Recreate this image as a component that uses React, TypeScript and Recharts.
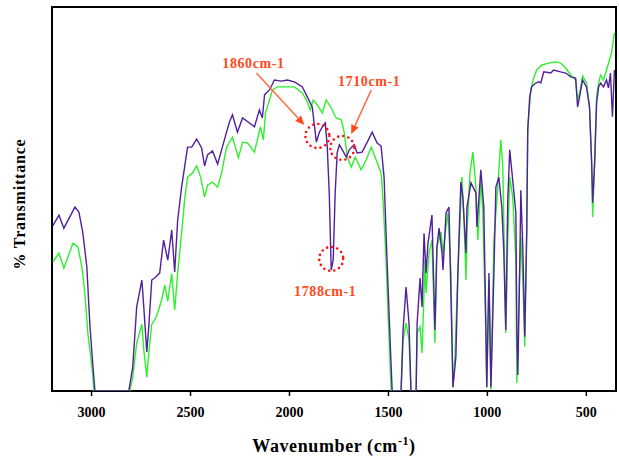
import {
  LineChart,
  Line,
  XAxis,
  YAxis,
  ReferenceArea,
  ReferenceDot,
  ReferenceLine,
} from "recharts";

// [wavenumber cm-1, % transmittance]
const purpleSpectrum: [number, number][] = [
  [3196, 43.0], [3165, 45.8], [3140, 42.4], [3084, 47.9], [3064, 46.6], [3044, 41.1],
  [3024, 32.3], [3008, 16.7], [2993, 6.3], [2983, 0], [2812, 0], [2792, 6.3],
  [2772, 21.9], [2746, 28.9], [2741, 25.5], [2721, 10.2], [2711, 16.7], [2696, 28.9],
  [2676, 29.7], [2656, 30.7], [2636, 39.3], [2615, 34.1], [2595, 41.9], [2580, 31.0],
  [2565, 44.5], [2545, 53.1], [2530, 58.3], [2515, 63.5], [2494, 63.5], [2469, 65.6],
  [2444, 63.3], [2429, 58.6], [2414, 61.5], [2389, 62.5], [2363, 59.1], [2343, 62.8],
  [2318, 67.4], [2303, 70.1], [2288, 71.9], [2263, 67.4], [2237, 71.1], [2202, 69.8],
  [2177, 68.8], [2152, 73.2], [2137, 71.1], [2126, 77.1], [2101, 78.4], [2076, 81.0],
  [2041, 80.7], [2011, 81.0], [1975, 80.5], [1935, 79.2], [1910, 76.6], [1885, 74.0],
  [1864, 64.8], [1849, 67.4], [1834, 68.8], [1819, 69.8], [1809, 63.5], [1799, 51.6],
  [1789, 31.5], [1779, 34.1], [1769, 51.6], [1759, 62.0], [1748, 64.1], [1733, 62.8],
  [1713, 60.9], [1698, 62.8], [1673, 64.1], [1658, 62.0], [1633, 62.2], [1607, 64.8],
  [1582, 67.4], [1557, 64.6], [1537, 63.8], [1522, 55.7], [1507, 34.1], [1491, 12.5],
  [1481, 0], [1436, 0], [1426, 15.9], [1411, 27.1], [1396, 17.7], [1386, 0],
  [1360, 0], [1355, 17.7], [1340, 29.4], [1330, 21.9], [1320, 41.1], [1310, 30.7],
  [1300, 38.5], [1280, 45.8], [1265, 15.9], [1255, 37.5], [1244, 42.4], [1229, 35.9],
  [1224, 31.5], [1209, 46.4], [1194, 47.9], [1179, 13.3], [1174, 1.0], [1159, 8.9],
  [1149, 30.7], [1134, 54.4], [1124, 50.5], [1108, 35.9], [1103, 47.9], [1083, 54.2],
  [1058, 51.6], [1053, 42.7], [1033, 57.6], [1018, 47.9], [1008, 17.7], [1003, 1.0],
  [992, 30.7], [982, 1.0], [967, 30.7], [957, 53.1], [942, 55.7], [927, 47.9],
  [917, 36.5], [907, 15.9], [897, 49.7], [887, 62.8], [872, 54.9], [856, 46.4],
  [851, 15.9], [846, 4.2], [836, 33.3], [831, 52.3], [821, 37.5], [811, 14.1],
  [801, 41.9], [796, 68.0], [786, 76.6], [776, 79.2], [756, 80.2], [740, 80.5],
  [730, 80.2], [715, 83.1], [680, 82.8], [665, 83.6], [630, 83.1], [604, 82.8],
  [579, 81.8], [554, 81.5], [544, 74.0], [534, 76.6], [519, 81.0], [499, 79.2],
  [484, 74.0], [473, 59.4], [468, 49.0], [458, 59.4], [448, 75.0], [438, 79.2],
  [428, 80.2], [413, 79.2], [398, 81.0], [388, 78.9], [378, 82.8], [368, 71.4],
  [358, 83.6],
];

const greenSpectrum: [number, number][] = [
  [3196, 33.6], [3165, 35.9], [3140, 32.0], [3094, 38.5], [3069, 37.5], [3049, 32.3],
  [3034, 25.5], [3019, 15.1], [2998, 6.3], [2988, 0], [2807, 0], [2792, 3.6],
  [2772, 12.5], [2746, 17.4], [2736, 10.7], [2721, 3.6], [2711, 9.9], [2696, 17.4],
  [2681, 18.5], [2666, 20.3], [2646, 23.7], [2630, 27.6], [2615, 23.4], [2595, 30.5],
  [2580, 21.1], [2565, 30.7], [2545, 41.1], [2530, 49.7], [2515, 55.7], [2489, 56.8],
  [2469, 58.6], [2449, 55.7], [2429, 50.5], [2414, 53.6], [2389, 54.4], [2363, 53.1],
  [2343, 56.8], [2318, 63.5], [2288, 66.1], [2258, 60.7], [2237, 64.8], [2212, 64.6],
  [2177, 62.2], [2147, 68.8], [2132, 65.4], [2121, 72.4], [2106, 75.0], [2086, 78.4],
  [2061, 79.2], [2026, 79.2], [1975, 79.2], [1935, 77.6], [1910, 75.3], [1895, 73.2],
  [1880, 75.8], [1859, 74.5], [1834, 72.4], [1814, 75.8], [1789, 73.7], [1764, 71.1],
  [1738, 70.6], [1723, 67.2], [1708, 60.9], [1688, 58.3], [1668, 60.9], [1653, 59.4],
  [1638, 57.6], [1612, 60.2], [1587, 63.5], [1562, 60.2], [1537, 56.8], [1527, 49.7],
  [1512, 34.1], [1496, 12.5], [1486, 0], [1436, 0], [1426, 13.3], [1411, 17.7],
  [1396, 13.3], [1386, 0], [1360, 0], [1355, 15.1], [1340, 16.7], [1330, 9.9],
  [1315, 34.1], [1310, 25.5], [1295, 35.9], [1280, 39.3], [1265, 12.5], [1255, 37.5],
  [1234, 41.4], [1224, 35.9], [1209, 42.7], [1199, 46.4], [1184, 30.7], [1174, 1.0],
  [1164, 8.9], [1149, 30.7], [1129, 55.7], [1118, 44.5], [1108, 28.9], [1103, 41.1],
  [1088, 56.8], [1073, 62.2], [1058, 53.1], [1048, 39.3], [1033, 54.9], [1023, 46.4],
  [1008, 15.9], [1003, 1.0], [992, 28.9], [982, 0.3], [967, 39.3], [952, 49.7],
  [932, 65.4], [922, 58.3], [907, 15.1], [897, 39.3], [887, 55.7], [872, 50.5],
  [856, 34.1], [851, 2.1], [836, 33.3], [831, 40.1], [821, 28.9], [811, 11.5],
  [801, 41.9], [796, 68.0], [781, 78.4], [766, 81.5], [751, 83.6], [725, 84.9],
  [690, 85.4], [655, 85.7], [630, 85.4], [604, 84.1], [579, 82.3], [554, 81.0],
  [544, 75.8], [534, 77.6], [519, 82.0], [499, 80.2], [484, 74.0], [473, 59.4],
  [468, 45.3], [458, 59.4], [448, 76.6], [438, 80.2], [428, 82.3], [413, 81.0],
  [398, 83.6], [383, 86.2], [373, 88.0], [358, 93.2],
];

const xTicks = [3000, 2500, 2000, 1500, 1000, 500];

// annotation labels: [text, wavenumber, transmittance]
const peakLabels: [string, number, number][] = [
  ["1860cm-1", 2182, 85.4],
  ["1710cm-1", 1597, 80.5],
  ["1788cm-1", 1819, 25.8],
];
// highlighted points [wavenumber, transmittance]
const peakCircles: [number, number][] = [
  [1859, 66.4],
  [1733, 63.3],
  [1789, 34.4],
];
// arrows [fromWn, fromT, toWn, toT]
const peakArrows: [number, number, number, number][] = [
  [2167, 82.8, 1925, 69.3],
  [1587, 78.4, 1688, 66.9],
];

const purple = purpleSpectrum.map(([wn, t]) => ({ wn, t }));
const green = greenSpectrum.map(([wn, t]) => ({ wn, t }));

const RED_TEXT = "#ff4a1c";
const serif = "'Liberation Serif', 'Times New Roman', serif";

const Arrow = (props: any) => {
  const { x1, y1, x2, y2 } = props;
  if ([x1, y1, x2, y2].some((v) => v == null || isNaN(v))) return null;
  const ang = Math.atan2(y2 - y1, x2 - x1);
  const len = 9;
  const w = 4;
  const bx = x2 - len * Math.cos(ang);
  const by = y2 - len * Math.sin(ang);
  const px = -Math.sin(ang) * w;
  const py = Math.cos(ang) * w;
  return (
    <g>
      <line x1={x1} y1={y1} x2={bx} y2={by} stroke="#ff6a48" strokeWidth={1.5} />
      <polygon
        points={`${x2},${y2} ${bx + px},${by + py} ${bx - px},${by - py}`}
        fill="#ff4a1c"
      />
    </g>
  );
};

const XLabel = (props: any) => {
  const vb = props.viewBox || {};
  const cx = (vb.x ?? 52) + (vb.width ?? 564) / 2;
  const y = (vb.y ?? 391) + 61;
  return (
    <text
      x={cx}
      y={y}
      textAnchor="middle"
      fontFamily={serif}
      fontWeight="bold"
      fontSize={18}
      letterSpacing={0.6}
      fill="#000"
    >
      Wavenumber (cm
      <tspan dy={-7} fontSize={12}>-1</tspan>
      <tspan dy={7}>)</tspan>
    </text>
  );
};

const YLabel = (props: any) => {
  const vb = props.viewBox || {};
  const x = (vb.x ?? 0) + 19;
  const y = (vb.y ?? 7) + (vb.height ?? 384) / 2 + 5;
  return (
    <text
      x={x}
      y={y}
      transform={`rotate(-90, ${x}, ${y})`}
      textAnchor="middle"
      dominantBaseline="central"
      fontFamily={serif}
      fontWeight="bold"
      fontSize={16}
      letterSpacing={0.8}
      fill="#000"
    >
      % Transmittance
    </text>
  );
};

export default function App() {
  return (
    <div style={{ position: "absolute", left: 0, top: 0, width: 619, height: 456, background: "#fff" }}>
      <LineChart width={619} height={456} margin={{ top: 7, right: 3, left: 0, bottom: 0 }}>
        <XAxis
          dataKey="wn"
          type="number"
          domain={[350, 3200]}
          reversed
          allowDataOverflow
          ticks={xTicks}
          axisLine={false}
          tickLine={{ stroke: "#000", strokeWidth: 1.5 }}
          tickSize={5}
          tickMargin={11}
          height={65}
          tick={{ fill: "#000", fontFamily: serif, fontWeight: "bold", fontSize: 14 }}
          label={{ content: XLabel }}
        />
        <YAxis
          type="number"
          domain={[0, 100]}
          allowDataOverflow
          width={52}
          tick={false}
          tickLine={false}
          axisLine={false}
          label={{ content: YLabel }}
        />
        <Line
          data={green}
          dataKey="t"
          type="linear"
          stroke="#2ef02e"
          strokeWidth={1.4}
          dot={false}
          isAnimationActive={false}
        />
        <Line
          data={purple}
          dataKey="t"
          type="linear"
          stroke="#52209c"
          strokeWidth={1.4}
          dot={false}
          isAnimationActive={false}
        />
        <ReferenceArea
          x1={3200}
          x2={350}
          y1={0}
          y2={100}
          fill="none"
          stroke="#000"
          strokeWidth={2}
          ifOverflow="visible"
        />
        {peakArrows.map(([a, b, c, d], i) => (
          <ReferenceLine
            key={`arr${i}`}
            segment={[{ x: a, y: b }, { x: c, y: d }]}
            shape={Arrow}
            ifOverflow="visible"
          />
        ))}
        {peakCircles.map(([wn, t], i) => (
          <ReferenceDot
            key={`c${i}`}
            x={wn}
            y={t}
            r={12}
            fill="none"
            stroke="#ff1010"
            strokeWidth={2.6}
            strokeDasharray="0 5.2"
            strokeLinecap="round"
          />
        ))}
        {peakLabels.map(([text, wn, t], i) => (
          <ReferenceDot
            key={`l${i}`}
            x={wn}
            y={t}
            r={0}
            shape={(p: any) => (
              <text
                x={p.cx}
                y={p.cy}
                textAnchor="middle"
                dominantBaseline="central"
                fontFamily={serif}
                fontWeight="bold"
                fontSize={14}
                letterSpacing={0.6}
                fill={RED_TEXT}
              >
                {text}
              </text>
            )}
          />
        ))}
      </LineChart>
    </div>
  );
}
